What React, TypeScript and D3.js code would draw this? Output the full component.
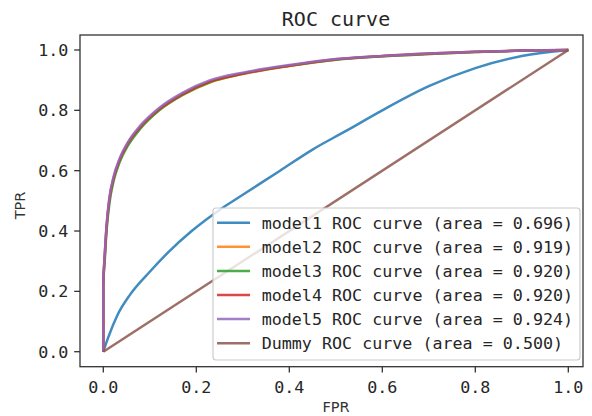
import React from 'react';
import * as d3 from 'd3';

// ROC points
const model1Fpr = [0, 0.01, 0.03, 0.058, 0.1, 0.14, 0.19, 0.25, 0.3, 0.38, 0.45, 0.52, 0.6, 0.7, 0.8, 0.9, 1];
const model1Tpr = [0, 0.045, 0.12, 0.19, 0.265, 0.33, 0.4, 0.47, 0.52, 0.6, 0.67, 0.73, 0.8, 0.88, 0.94, 0.98, 1];

const strongFpr = [0, 0, 0.003, 0.007, 0.013, 0.022, 0.035, 0.053, 0.08, 0.12, 0.17, 0.23, 0.3, 0.4, 0.5, 0.6, 0.7, 0.8, 0.9, 1];
const model2Tpr = [0, 0.22, 0.31, 0.41, 0.5, 0.57, 0.632, 0.687, 0.742, 0.8, 0.85, 0.893, 0.92, 0.947, 0.968, 0.979, 0.987, 0.993, 0.998, 1];
const model3Tpr = [0, 0.22, 0.3, 0.4, 0.49, 0.565, 0.628, 0.683, 0.74, 0.8, 0.851, 0.894, 0.921, 0.948, 0.968, 0.979, 0.987, 0.993, 0.998, 1];
const model4Tpr = [0, 0.22, 0.315, 0.415, 0.505, 0.575, 0.636, 0.691, 0.746, 0.804, 0.854, 0.896, 0.922, 0.948, 0.969, 0.98, 0.988, 0.994, 0.998, 1];
const model5Tpr = [0, 0.22, 0.32, 0.42, 0.51, 0.58, 0.64, 0.695, 0.75, 0.808, 0.858, 0.9, 0.925, 0.95, 0.97, 0.98, 0.988, 0.994, 0.998, 1];

const dummyFpr = [0, 1];
const dummyTpr = [0, 1];

const seriesNames = [
  'model1 ROC curve (area = 0.696)',
  'model2 ROC curve (area = 0.919)',
  'model3 ROC curve (area = 0.920)',
  'model4 ROC curve (area = 0.920)',
  'model5 ROC curve (area = 0.924)',
  'Dummy ROC curve (area = 0.500)',
];
const seriesColors = ['#1f77b4', '#ff7f0e', '#2ca02c', '#d62728', '#9467bd', '#8c564b'];

const xTicks = [0, 0.2, 0.4, 0.6, 0.8, 1.0];
const yTicks = [0, 0.2, 0.4, 0.6, 0.8, 1.0];

const W = 592;
const H = 416;
const frame = { left: 80, top: 35, right: 583, bottom: 366.7 };
const mono = '"DejaVu Sans Mono", monospace';
const sans = '"DejaVu Sans", sans-serif';

const zip = (xs: number[], ys: number[]) => xs.map((x, i) => [x, ys[i]] as [number, number]);

export default function App() {
  const x = d3.scaleLinear().domain([0, 1]).range([103.3, 568.3]);
  const y = d3.scaleLinear().domain([0, 1]).range([351.7, 50]);

  const line = d3.line<[number, number]>()
    .x(d => x(d[0]))
    .y(d => y(d[1]))
    .curve(d3.curveMonotoneX);

  const series = [
    zip(model1Fpr, model1Tpr),
    zip(strongFpr, model2Tpr),
    zip(strongFpr, model3Tpr),
    zip(strongFpr, model4Tpr),
    zip(strongFpr, model5Tpr),
    zip(dummyFpr, dummyTpr),
  ];

  const fmt = d3.format('.1f');
  const tickLen = 5.8;
  const legendRow = 24.1;

  return (
    <svg width={W} height={H} style={{ position: 'absolute', left: 0, top: 0, background: '#fff' }}>
      <text x={336} y={26} textAnchor="middle" fontFamily={mono} fontSize={20} fill="#262626">ROC curve</text>

      {series.map((pts, i) => (
        <path key={i} d={line(pts) || ''} fill="none" stroke={seriesColors[i]} strokeOpacity={0.85}
          strokeWidth={2.5} strokeLinejoin="round" />
      ))}

      <rect x={frame.left} y={frame.top} width={frame.right - frame.left} height={frame.bottom - frame.top}
        fill="none" stroke="#333" strokeWidth={1.3} />

      {xTicks.map(t => (
        <g key={'x' + t}>
          <line x1={x(t)} x2={x(t)} y1={frame.bottom} y2={frame.bottom + tickLen} stroke="#333" strokeWidth={1.3} />
          <text x={x(t)} y={393} textAnchor="middle" fontFamily={mono} fontSize={16.7} fill="#262626">{fmt(t)}</text>
        </g>
      ))}
      {yTicks.map(t => (
        <g key={'y' + t}>
          <line x1={frame.left - tickLen} x2={frame.left} y1={y(t)} y2={y(t)} stroke="#333" strokeWidth={1.3} />
          <text x={68.4} y={y(t)} dy="0.36em" textAnchor="end" fontFamily={mono} fontSize={16.7} fill="#262626">{fmt(t)}</text>
        </g>
      ))}

      <text x={336} y={412} textAnchor="middle" fontFamily={sans} fontSize={14.5} fill="#333">FPR</text>
      <text transform="translate(25,205.5) rotate(-90)" textAnchor="middle" fontFamily={sans} fontSize={14.5} fill="#333">TPR</text>

      <g>
        <rect x={213} y={208} width={367} height={152} rx={3} fill="#fff" fillOpacity={0.8} stroke="#ccc" strokeWidth={1.2} />
        {seriesNames.map((name, i) => (
          <g key={name} transform={`translate(0,${222.7 + i * legendRow})`}>
            <line x1={217} x2={250} y1={0} y2={0} stroke={seriesColors[i]} strokeOpacity={0.85} strokeWidth={2.5} />
            <text x={261.7} y={0} dy="0.36em" fontFamily={mono} fontSize={16.7} fill="#262626">{name}</text>
          </g>
        ))}
      </g>
    </svg>
  );
}
